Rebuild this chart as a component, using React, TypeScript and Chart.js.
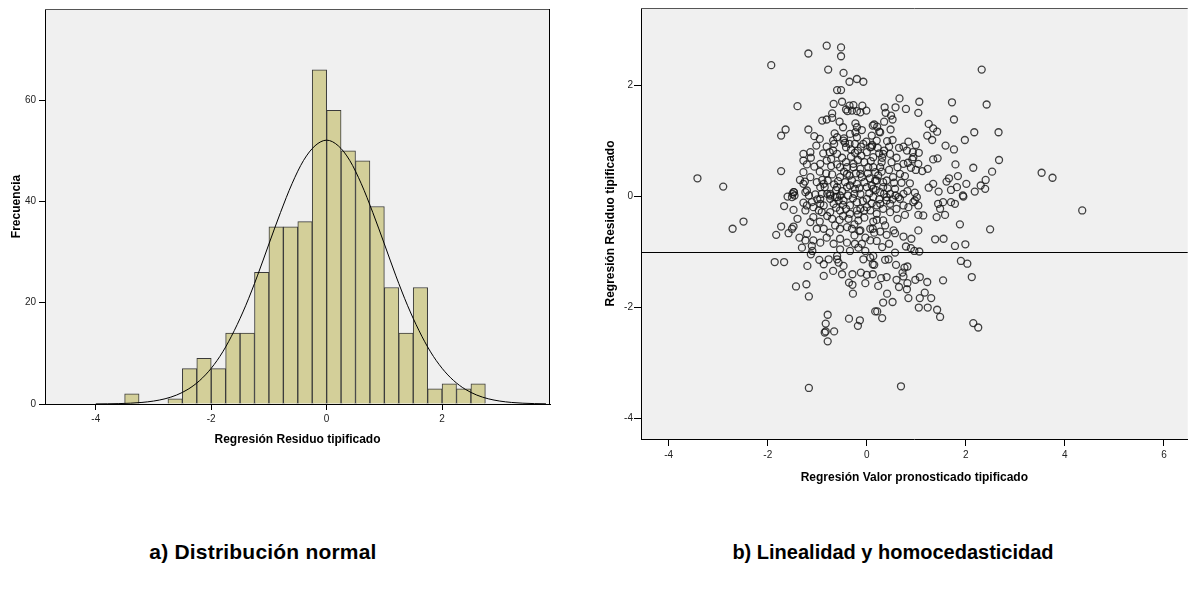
import React, { useEffect, useRef } from "react";
import { Chart, registerables } from "chart.js";

Chart.register(...registerables);

const FONT = 'Arial, "Liberation Sans", Helvetica, sans-serif';

// ---------- (a) Histogram of standardized residuals ----------
const binLeftEdges = [
  -3.5, -2.75, -2.5, -2.25, -2.0, -1.75, -1.5, -1.25, -1.0, -0.75, -0.5, -0.25,
  0.0, 0.25, 0.5, 0.75, 1.0, 1.25, 1.5, 1.75, 2.0, 2.25, 2.5,
];
const binWidth = 0.25;
const binCounts = [2, 1, 7, 9, 7, 14, 14, 26, 35, 35, 36, 66, 58, 50, 48, 39, 23, 14, 23, 3, 4, 3, 4];

// fitted normal curve
const normalCurveX = [
  -4.0, -3.8, -3.6, -3.4, -3.2, -3.0, -2.8, -2.6, -2.4, -2.2, -2.0, -1.8, -1.6, -1.4, -1.2, -1.0,
  -0.8, -0.6, -0.4, -0.2, 0.0, 0.2, 0.4, 0.6, 0.8, 1.0, 1.2, 1.4, 1.6, 1.8, 2.0, 2.2, 2.4, 2.6,
  2.8, 3.0, 3.2, 3.4, 3.6, 3.8,
];
const normalCurveY = [
  0.02, 0.04, 0.08, 0.16, 0.31, 0.58, 1.03, 1.77, 2.92, 4.63, 7.05, 10.3, 14.5, 19.5, 25.3, 31.6,
  37.8, 43.5, 48.1, 51.0, 52.1, 51.0, 48.1, 43.5, 37.8, 31.6, 25.3, 19.5, 14.5, 10.3, 7.05, 4.63,
  2.92, 1.77, 1.03, 0.58, 0.31, 0.16, 0.08, 0.04,
];
const histXTicks = [-4, -2, 0, 2];
const histYTicks = [0, 20, 40, 60];
const histXRange = [-4.88, 3.87];
const histYRange = [0, 78];

// ---------- (b) Residuals vs predicted ----------
const scatterXTicks = [-4, -2, 0, 2, 4, 6];
const scatterYTicks = [-4, -2, 0, 2];
const scatterXRange = [-4.56, 6.48];
const scatterYRange = [-4.37, 3.4];
const referenceLineY = -1;

const scatterPoints: [number, number][] = [
  [-3.42, 0.33], [-2.9, 0.18], [-2.49, -0.45], [-2.71, -0.58],
  [-1.93, 2.37], [-1.18, 2.58], [-0.81, 2.72], [-0.52, 2.69], [-0.52, 2.53], [-0.78, 2.29], [-0.47, 2.23],
  [-0.35, 2.07], [-0.2, 2.12], [-0.07, 2.07], [-0.6, 1.92], [-0.52, 1.92], [-1.4, 1.63], [-0.67, 1.67],
  [-0.5, 1.71], [-0.42, 1.57], [-0.35, 1.64], [-0.27, 1.65], [-0.2, 1.54], [-0.13, 1.52], [-0.09, 1.64],
  [-0.01, 1.55], [-0.39, 1.54], [-0.3, 1.55], [-0.9, 1.37], [-0.81, 1.39], [-0.7, 1.42], [-0.7, 1.5],
  [-0.48, 1.25], [-0.23, 1.32], [-0.23, 1.16], [-0.2, 1.07], [0.12, 1.28], [-1.64, 1.21], [-1.73, 1.1],
  [-1.18, 1.21], [-1.06, 1.09], [-0.95, 1.04], [-0.65, 1.14], [-0.6, 1.07], [-0.68, 1.01], [-0.46, 1.05],
  [-0.44, 0.97], [-0.42, 0.89], [-0.81, 0.9], [-0.75, 0.8], [-0.68, 0.83], [-0.6, 0.77], [-0.01, 0.99],
  [0.1, 0.9], [-0.12, 0.9], [-0.18, 0.83], [-0.24, 0.79], [-0.11, 0.74], [-1.28, 0.77], [-1.14, 0.8],
  [-1.13, 0.7], [-1.28, 0.65], [-1.21, 0.58], [-1.73, 0.46], [-1.06, 0.54], [-0.94, 0.59], [-0.81, 0.65],
  [-0.72, 0.68], [-0.6, 0.58], [-0.54, 0.53], [-0.42, 0.62], [-1.28, 0.44], [-1.14, 0.35], [-1.01, 0.26],
  [-0.94, 0.17], [-1.04, 0.04], [-1.24, 0.08], [-1.28, 0.23], [-1.48, 0.08], [-1.46, 0.02], [-0.82, 0.42],
  [-0.79, 0.29], [-0.85, 0.17], [-0.74, 0.02], [-0.54, 0.02], [-0.4, 0.17], [-0.3, 0.29], [-0.2, 0.23],
  [-0.1, 0.35], [0.03, 0.53], [-0.13, 0.5], [-0.27, 0.59], [-0.4, 0.53], [-0.54, 0.35], [-0.6, 0.17],
  [0.38, 1.51], [0.49, 1.46], [0.52, 1.39], [0.48, 1.21], [0.15, 1.3], [0.21, 1.26], [0.25, 1.17],
  [1.25, 1.31], [1.34, 1.23], [1.42, 1.17], [1.22, 1.1], [1.32, 1.02], [2.17, 1.16], [2.66, 1.16],
  [1.98, 1.02], [1.59, 0.92], [1.76, 0.85], [0.11, 0.93], [0.41, 1.0], [0.52, 1.02], [0.74, 0.9],
  [0.84, 0.99], [0.99, 0.93], [0.25, 0.78], [0.35, 0.83], [0.47, 0.77], [0.65, 0.88], [0.81, 0.83],
  [0.93, 0.8], [1.05, 0.79], [0.31, 0.7], [0.94, 0.71], [0.74, 0.59], [0.83, 0.61], [0.92, 0.67],
  [1.04, 0.59], [1.34, 0.67], [1.43, 0.69], [1.79, 0.58], [2.67, 0.66], [2.15, 0.52], [2.53, 0.45],
  [1.23, 0.5], [1.12, 0.46], [0.99, 0.48], [0.89, 0.52], [1.84, 0.37], [1.66, 0.33], [1.61, 0.27],
  [2.4, 0.3], [2.3, 0.2], [2.39, 0.14], [2.01, 0.23], [2.18, 0.09], [1.94, 0.02], [1.25, 0.16],
  [1.34, 0.23], [1.45, 0.09], [1.7, 0.12], [1.82, 0.17], [0.87, 0.24], [0.77, 0.37], [0.62, 0.53],
  [0.53, 0.35], [0.4, 0.29], [0.23, 0.38], [0.13, 0.53], [0.97, 0.07], [1.01, -0.01], [0.74, 0.05],
  [0.64, -0.01], [0.47, 0.05], [0.27, 0.08], [0.13, 0.14], [0.17, 0.44], [0.2, 0.29], [0.33, 0.17],
  [0.4, -0.01], [0.57, 0.14], [0.67, 0.41], [2.32, 2.29], [0.66, 1.77], [1.06, 1.71], [1.72, 1.7],
  [2.42, 1.66], [0.36, 1.61], [0.58, 1.61], [0.79, 1.58], [1.04, 1.51], [1.76, 1.39], [0.27, 1.16],
  [-1.67, -0.17], [-1.48, -0.24], [-1.73, -0.54], [-1.83, -0.69], [-1.58, -0.66], [-1.51, -0.58],
  [-1.48, -0.54], [-1.86, -1.18], [-1.67, -1.18], [-1.43, -1.62], [-1.22, -1.58], [-1.17, -1.8],
  [-0.79, -2.13], [-0.83, -2.29], [-0.83, -2.43], [-0.79, -2.61], [-0.85, -2.45], [-0.66, -2.43],
  [-0.36, -2.2], [-0.14, -2.23], [-0.18, -2.33], [-0.87, -1.43], [-0.68, -1.34], [-0.47, -1.25],
  [-0.29, -1.4], [-0.36, -1.55], [-0.29, -1.59], [-0.28, -1.75], [-0.12, -1.37], [-0.03, -1.56],
  [0.0, -1.41], [0.12, -1.4], [0.17, -2.07], [-0.96, -1.14], [-0.87, -1.22], [-0.77, -1.13],
  [-0.6, -1.13], [-0.57, -1.19], [-1.13, -1.04], [-1.1, -0.98], [-0.07, -1.13], [0.12, -1.22],
  [-0.03, -0.98], [-0.17, -0.92], [-0.24, -0.85], [-0.34, -0.98], [-0.54, -0.95], [-0.6, -1.07],
  [-1.31, -0.92], [-1.24, -0.79], [-1.36, -0.74], [-1.21, -0.67], [-1.08, -0.79], [-0.94, -0.83],
  [-0.81, -0.74], [-0.87, -0.58], [-1.14, -0.46], [-1.08, -0.37], [-0.91, -0.28], [-1.21, -0.16],
  [-1.11, -0.1], [-1.24, -0.25], [-0.74, -0.28], [-0.54, -0.25], [-0.34, -0.16], [-0.13, -0.22],
  [0.07, -0.25], [-0.64, -0.52], [-0.54, -0.58], [-0.4, -0.55], [-0.37, -0.4], [-0.17, -0.43],
  [-0.13, -0.61], [0.07, -0.58], [-0.03, -0.74], [-0.54, -0.76], [-0.4, -0.83], [-0.67, -0.85],
  [-1.01, -0.58], [-1.11, -0.89], [-1.51, -0.01], [-0.74, -0.04], [-0.6, -0.01], [-0.47, -0.07],
  [-0.2, -0.1], [0.0, -0.04], [-0.94, -0.13], [-1.17, -3.45], [0.69, -3.42], [4.35, -0.25],
  [3.53, 0.43], [3.75, 0.34], [2.49, -0.59], [1.88, -0.5], [1.38, -0.77], [1.55, -0.76], [1.78, -0.89],
  [1.99, -0.86], [1.9, -1.16], [2.03, -1.21], [2.12, -1.45], [2.15, -2.28], [2.25, -2.36], [1.54, -1.51],
  [1.48, -2.17], [1.42, -2.04], [1.23, -2.0], [1.05, -2.0], [1.3, -1.83], [1.17, -1.73], [1.07, -1.83],
  [1.22, -1.54], [1.07, -1.45], [0.98, -1.5], [0.84, -1.83], [0.81, -1.67], [0.82, -1.56], [0.65, -1.63],
  [0.74, -1.44], [0.72, -1.37], [0.76, -1.28], [0.82, -1.26], [0.41, -1.75], [0.52, -1.9], [0.33, -1.91],
  [0.21, -2.07], [0.31, -2.19], [0.29, -1.47], [0.23, -1.61], [0.15, -1.23], [0.59, -1.23], [0.07, -1.1],
  [0.13, -1.07], [0.37, -1.14], [0.44, -1.13], [0.31, -0.91], [0.57, -1.01], [0.79, -0.9], [0.89, -0.93],
  [0.96, -0.98], [1.06, -0.99], [0.9, -0.76], [0.74, -0.72], [1.04, -0.61], [0.57, -0.66], [0.4, -0.69],
  [0.54, -0.61], [0.37, -0.52], [0.27, -0.63], [0.33, -0.43], [0.13, -0.45], [0.12, -0.58], [0.07, -0.79],
  [0.77, -0.33], [1.04, -0.33], [1.14, -0.34], [1.04, -0.16], [0.97, -0.07], [1.41, -0.37], [1.58, -0.33],
  [1.48, -0.22], [1.44, -0.13], [1.54, -0.1], [1.7, -0.1], [1.78, -0.13], [1.95, 0.0], [0.74, -0.16],
  [0.67, -0.04], [0.47, -0.13], [0.33, -0.22], [0.2, -0.16], [0.47, -0.28], [0.6, -0.22], [0.84, -0.19],
  [0.94, -0.1], [0.13, -0.01], [-1.25, 0.27], [-1.21, 0.11], [-1.28, -0.11], [-1.5, 0.05], [-1.47, 0.08],
  [-1.17, 0.02], [-1.08, -0.19], [-0.97, -0.25], [-0.87, -0.16], [-0.94, -0.04], [-0.91, 0.05],
  [-0.87, 0.23], [-0.74, 0.05], [-0.64, -0.01], [-0.57, -0.07], [-0.67, -0.13], [-0.44, 0.26],
  [-0.34, 0.2], [-0.24, 0.14], [-0.4, 0.41], [-0.27, 0.53], [-0.13, 0.41], [-0.47, 1.01], [-0.34, 1.13],
  [-0.2, 1.25], [-0.24, 0.95], [-0.07, 0.95], [0.07, 0.89], [0.2, 1.01], [0.13, 0.71], [0.33, 0.77],
  [0.27, 0.53], [0.17, 0.29], [0.33, 0.26], [0.0, 0.17], [-0.13, 0.05], [0.27, -0.13], [0.4, -0.07],
  [0.0, -0.19], [-0.2, -0.25], [-0.34, -0.31], [0.2, -0.31], [-0.7, 0.4], [-0.66, 0.22], [-0.5, 0.1],
  [-0.46, 0.45], [-0.35, 0.38], [-0.22, 0.42], [-0.05, 0.26], [0.06, 0.33], [0.1, 0.2], [0.05, 0.06],
  [-0.08, -0.08], [-0.28, -0.03], [-0.38, 0.02], [-0.48, -0.15], [-0.62, -0.2], [-0.7, -0.4],
  [-0.48, -0.35], [-0.25, -0.5], [-0.05, -0.38], [0.2, -0.42], [0.25, -0.05], [0.35, 0.05], [0.52, -0.05],
  [0.55, 0.25], [0.45, 0.48], [0.3, 0.62], [0.08, 0.64], [-0.05, 0.62], [-0.18, 0.66], [-0.32, 0.72],
  [-0.5, 0.7], [-0.88, 0.78], [-0.95, 0.45], [-0.66, 0.95], [-0.32, 0.85], [0.0, 0.8], [0.22, 0.88],
  [0.45, 0.9], [0.6, 0.7], [0.7, 0.25], [0.82, 0.1], [0.62, -0.4], [0.45, -0.85], [0.2, -0.8],
  [-0.1, -0.85], [-0.25, -0.7], [-0.75, -0.65], [-0.95, -0.45], [-1.0, -0.05], [-0.8, 0.05], [-0.58, 0.28],
  [-0.15, 0.15], [0.18, 0.12], [-0.3, -0.58], [0.1, 1.1], [-0.1, 1.2], [0.35, 1.35], [-0.55, 1.35],
  [-1.02, 0.92], [-1.35, 0.3], [-1.6, 0.0], [-1.4, -0.4], [-1.2, -1.25], [-0.5, -1.4], [0.4, -1.45],
  [0.6, -1.5], [-0.62, 0.12], [-0.42, -0.22], [-0.18, -0.32], [0.1, -0.12], [0.3, 0.45], [0.5, 0.62],
  [-0.25, 0.05], [-0.55, -0.42], [-0.8, -0.35], [-0.35, 0.95], [0.02, 0.42], [0.58, 0.02], [-0.72, 0.55],
  [-0.9, 0.3], [0.15, -0.65], [-0.15, -0.62], [0.42, 0.15], [-0.05, -0.25],
];

const PLOT_BG = "#f0f0f0";

const plotBackground = {
  id: "plotBackground",
  beforeDraw(chart: any) {
    const { ctx, chartArea } = chart;
    ctx.save();
    ctx.fillStyle = PLOT_BG;
    ctx.fillRect(chartArea.left, chartArea.top, chartArea.right - chartArea.left, chartArea.bottom - chartArea.top);
    ctx.restore();
  },
};

const frameTopRight = (drawRight: boolean) => ({
  id: "frameTopRight",
  afterDraw(chart: any) {
    const { ctx, chartArea } = chart;
    ctx.save();
    ctx.lineWidth = 1;
    ctx.strokeStyle = "#555";
    ctx.beginPath();
    ctx.moveTo(chartArea.left, chartArea.top + 0.5);
    ctx.lineTo(chartArea.right, chartArea.top + 0.5);
    ctx.stroke();
    if (drawRight) {
      ctx.strokeStyle = "#000";
      ctx.beginPath();
      ctx.moveTo(chartArea.right - 0.5, chartArea.top);
      ctx.lineTo(chartArea.right - 0.5, chartArea.bottom);
      ctx.stroke();
    }
    ctx.restore();
  },
});

const referenceLine = {
  id: "referenceLine",
  afterDatasetsDraw(chart: any) {
    const { ctx, chartArea, scales } = chart;
    const y = Math.round(scales.y.getPixelForValue(referenceLineY)) + 0.5;
    ctx.save();
    ctx.strokeStyle = "#000";
    ctx.lineWidth = 1;
    ctx.beginPath();
    ctx.moveTo(chartArea.left, y);
    ctx.lineTo(chartArea.right, y);
    ctx.stroke();
    ctx.restore();
  },
};

const tickFont = { family: FONT, size: 10 };
const titleFont = { family: FONT, size: 12, weight: "bold" as const };

function axis(opts: {
  range: number[];
  ticks: number[];
  title: string;
  size: number;
  horizontal: boolean;
  tickLength: number;
  tickPad: number;
  titlePad: number;
}) {
  return {
    type: "linear" as const,
    min: opts.range[0],
    max: opts.range[1],
    offset: false,
    afterBuildTicks: (ax: any) => {
      ax.ticks = opts.ticks.map((value) => ({ value }));
    },
    afterFit: (ax: any) => {
      if (opts.horizontal) ax.height = opts.size;
      else ax.width = opts.size;
    },
    ticks: {
      font: tickFont,
      color: "#222",
      padding: opts.tickPad,
      maxRotation: 0,
      autoSkip: false,
      callback: (v: any) => String(v),
    },
    grid: {
      display: true,
      drawOnChartArea: false,
      drawTicks: true,
      tickLength: opts.tickLength,
      tickColor: "#000",
      offset: false,
    },
    border: { display: true, color: "#000", width: 1 },
    title: {
      display: true,
      text: opts.title,
      font: titleFont,
      color: "#000",
      padding: opts.horizontal ? { top: 0, bottom: opts.titlePad } : { top: opts.titlePad, bottom: 0 },
    },
  };
}

function Histogram() {
  const ref = useRef<HTMLCanvasElement>(null);
  useEffect(() => {
    const chart = new Chart(ref.current as HTMLCanvasElement, {
      type: "bar",
      data: {
        datasets: [
          {
            type: "line" as const,
            data: normalCurveX.map((x, i) => ({ x, y: normalCurveY[i] })),
            borderColor: "#000",
            borderWidth: 1,
            pointRadius: 0,
            fill: false,
            cubicInterpolationMode: "monotone",
            order: 0,
          } as any,
          {
            type: "bar" as const,
            data: binLeftEdges.map((l, i) => ({ x: l + binWidth / 2, y: binCounts[i] })),
            backgroundColor: "#d3cf99",
            borderColor: "#3a3a3a",
            borderWidth: 1,
            barPercentage: 1,
            categoryPercentage: 1,
            order: 1,
          } as any,
        ],
      },
      options: {
        responsive: false,
        animation: false,
        events: [],
        layout: { padding: { top: 8, right: 10, left: 0, bottom: 0 } },
        plugins: { legend: { display: false }, tooltip: { enabled: false } },
        scales: {
          x: axis({
            range: histXRange,
            ticks: histXTicks,
            title: "Regresión Residuo tipificado",
            size: 43,
            horizontal: true,
            tickLength: 6,
            tickPad: 3,
            titlePad: 0,
          }) as any,
          y: axis({
            range: histYRange,
            ticks: histYTicks,
            title: "Frecuencia",
            size: 45,
            horizontal: false,
            tickLength: 6,
            tickPad: 3,
            titlePad: 9.5,
          }) as any,
        },
      },
      plugins: [plotBackground, frameTopRight(true)],
    });
    return () => chart.destroy();
  }, []);
  return (
    <canvas
      ref={ref}
      width={560}
      height={447}
      style={{ position: "absolute", left: 0, top: 0, width: 560, height: 447 }}
    />
  );
}

function ResidualScatter() {
  const ref = useRef<HTMLCanvasElement>(null);
  useEffect(() => {
    const chart = new Chart(ref.current as HTMLCanvasElement, {
      type: "scatter",
      data: {
        datasets: [
          {
            data: scatterPoints.map(([x, y]) => ({ x, y })),
            pointStyle: "circle",
            pointRadius: 3.5,
            pointBorderWidth: 1.3,
            borderColor: "rgba(20,20,20,0.8)",
            backgroundColor: "rgba(0,0,0,0)",
          },
        ],
      },
      options: {
        responsive: false,
        animation: false,
        events: [],
        layout: { padding: { top: 8, right: 0, left: 0, bottom: 0 } },
        plugins: { legend: { display: false }, tooltip: { enabled: false } },
        scales: {
          x: axis({
            range: scatterXRange,
            ticks: scatterXTicks,
            title: "Regresión Valor pronosticado tipificado",
            size: 46,
            horizontal: true,
            tickLength: 7,
            tickPad: 3,
            titlePad: 0,
          }) as any,
          y: axis({
            range: scatterYRange,
            ticks: scatterYTicks,
            title: "Regresión Residuo tipificado",
            size: 51,
            horizontal: false,
            tickLength: 7,
            tickPad: 1,
            titlePad: 13.8,
          }) as any,
        },
      },
      plugins: [plotBackground, frameTopRight(false), referenceLine],
    });
    return () => chart.destroy();
  }, []);
  return (
    <canvas
      ref={ref}
      width={603}
      height={485}
      style={{ position: "absolute", left: 590, top: 0, width: 603, height: 485 }}
    />
  );
}

const captionStyle: React.CSSProperties = {
  position: "absolute",
  top: 540,
  width: 500,
  textAlign: "center",
  fontFamily: FONT,
  fontWeight: "bold",
  fontSize: 20,
  lineHeight: "24px",
  color: "#000",
  whiteSpace: "nowrap",
};

export default function App() {
  return (
    <div
      style={{
        position: "absolute",
        left: 0,
        top: 0,
        width: 1188,
        height: 595,
        background: "#fff",
        overflow: "hidden",
      }}
    >
      <Histogram />
      <ResidualScatter />
      <div style={{ ...captionStyle, left: 263 - 250, fontSize: 21, letterSpacing: 0.2 }}>a) Distribución normal</div>
      <div style={{ ...captionStyle, left: 893 - 250 }}>b) Linealidad y homocedasticidad</div>
    </div>
  );
}
